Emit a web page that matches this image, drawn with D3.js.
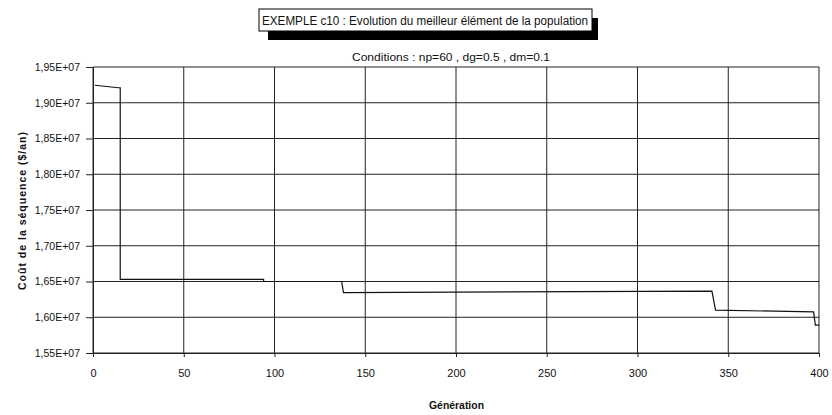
<!DOCTYPE html>
<html>
<head>
<meta charset="utf-8">
<script src="https://cdn.jsdelivr.net/npm/d3@7"></script>
<style>
  body { margin: 0; background: #fff; }
  text { font-family: "Liberation Sans", Arial, sans-serif; fill: #111; }
</style>
</head>
<body>
<svg id="chart" width="832" height="415"></svg>
<script>
// data
const generations = [1, 14, 15, 15, 94, 94, 137, 138, 341, 343, 397, 398, 400];
const costs = [1.9245e7, 1.921e7, 1.921e7, 1.653e7, 1.653e7, 1.650e7, 1.650e7, 1.6345e7, 1.6365e7, 1.610e7, 1.6075e7, 1.589e7, 1.589e7];
const xTicks = [0, 50, 100, 150, 200, 250, 300, 350, 400];
const yTicks = [1.55e7, 1.60e7, 1.65e7, 1.70e7, 1.75e7, 1.80e7, 1.85e7, 1.90e7, 1.95e7];
const yTickLabels = ["1,55E+07", "1,60E+07", "1,65E+07", "1,70E+07", "1,75E+07", "1,80E+07", "1,85E+07", "1,90E+07", "1,95E+07"];

const svg = d3.select("#chart");
const margin = {top: 67, right: 13, bottom: 62, left: 93};
const width = 832 - margin.left - margin.right,
      height = 415 - margin.top - margin.bottom;

const x = d3.scaleLinear().domain([0, 400]).range([0, width]);
const y = d3.scaleLinear().domain([1.55e7, 1.95e7]).range([height, 0]);

const g = svg.append("g").attr("transform", "translate(" + margin.left + "," + margin.top + ")");

// grid
g.append("g")
  .selectAll("line.h")
  .data(yTicks)
  .enter().append("line")
  .attr("x1", 0).attr("x2", width)
  .attr("y1", d => y(d)).attr("y2", d => y(d))
  .attr("stroke", "#222").attr("stroke-width", 1);

g.append("g")
  .selectAll("line.v")
  .data(xTicks)
  .enter().append("line")
  .attr("y1", 0).attr("y2", height)
  .attr("x1", d => x(d)).attr("x2", d => x(d))
  .attr("stroke", "#222").attr("stroke-width", 1);

// axes
let yAxis = d3.axisLeft(y).tickValues(yTicks).tickSize(7).tickPadding(6)
  .tickFormat((d, i) => yTickLabels[i]);
let yg = g.append("g").call(yAxis);
yg.select(".domain").attr("stroke", "#222");
yg.selectAll(".tick line").attr("stroke", "#222");
yg.selectAll("text").style("font-size", "10.5px").attr("fill", "#111");

let xAxis = d3.axisBottom(x).tickValues(xTicks).tickSize(4).tickPadding(12);
let xg = g.append("g").attr("transform", "translate(0," + height + ")").call(xAxis);
xg.select(".domain").attr("stroke", "#222");
xg.selectAll(".tick line").attr("stroke", "#222");
xg.selectAll("text").style("font-size", "11px").attr("fill", "#111");

// series
const points = generations.map((d, i) => [d, costs[i]]);
let line = d3.line().x(d => x(d[0])).y(d => y(d[1]));
g.append("path")
  .datum(points)
  .attr("d", line)
  .attr("fill", "none")
  .attr("stroke", "#111")
  .attr("stroke-width", 1.2);

// title box with shadow
svg.append("rect").attr("x", 268).attr("y", 18).attr("width", 330).attr("height", 22).attr("fill", "#000");
svg.append("rect").attr("x", 259).attr("y", 9).attr("width", 333).attr("height", 22)
  .attr("fill", "#fff").attr("stroke", "#000").attr("stroke-width", 1);
svg.append("text").attr("x", 262).attr("y", 25)
  .attr("textLength", 326).attr("lengthAdjust", "spacingAndGlyphs")
  .style("font-size", "12.5px")
  .text("EXEMPLE c10 : Evolution du meilleur élément de la population");

svg.append("text").attr("x", 352).attr("y", 61)
  .attr("textLength", 198).attr("lengthAdjust", "spacingAndGlyphs")
  .style("font-size", "11.5px")
  .text("Conditions : np=60 , dg=0.5 , dm=0.1");

svg.append("text").attr("transform", "translate(26,290) rotate(-90)")
  .attr("textLength", 158).attr("lengthAdjust", "spacing")
  .style("font-size", "10.5px").style("font-weight", "bold")
  .text("Coût de la séquence ($/an)");

svg.append("text").attr("x", 429).attr("y", 409)
  .attr("textLength", 55).attr("lengthAdjust", "spacingAndGlyphs")
  .style("font-size", "10.5px").style("font-weight", "bold")
  .text("Génération");
</script>
</body>
</html>
